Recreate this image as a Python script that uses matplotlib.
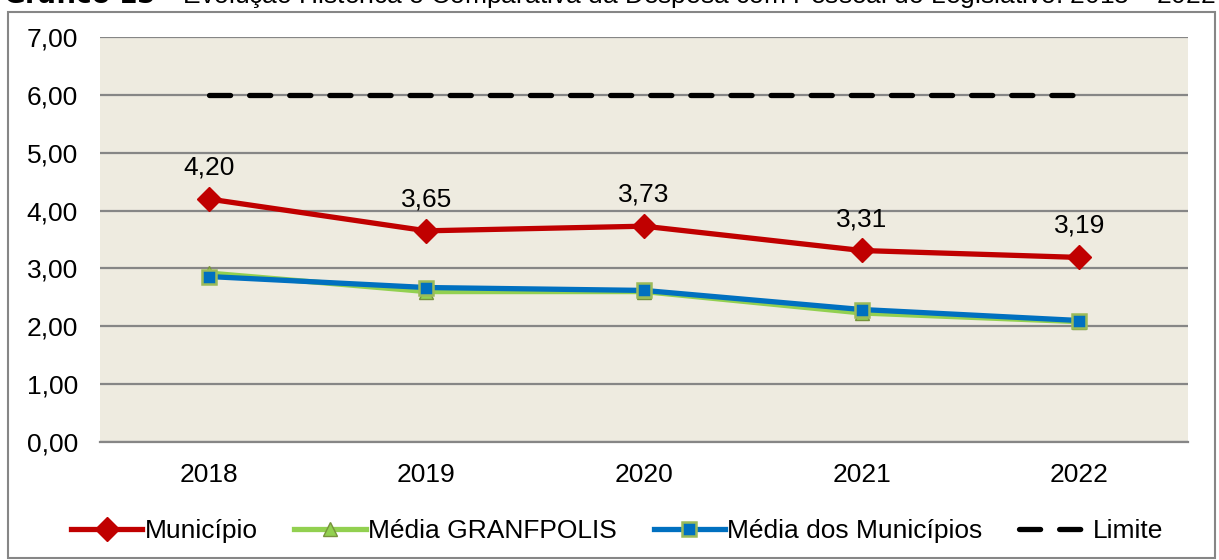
import matplotlib
matplotlib.use("Agg")
import matplotlib.pyplot as plt
from matplotlib.patches import Rectangle

plt.rcParams['font.family'] = ['Liberation Sans', 'DejaVu Sans']

# data
anos = ['2018', '2019', '2020', '2021', '2022']
municipio = [4.20, 3.65, 3.73, 3.31, 3.19]
media_granfpolis = [2.92, 2.60, 2.60, 2.23, 2.08]
media_municipios = [2.86, 2.67, 2.62, 2.29, 2.10]
limite = [6.00, 6.00, 6.00, 6.00, 6.00]
yticks = [0, 1, 2, 3, 4, 5, 6, 7]


def fmt(v):
    return '{:.2f}'.format(v).replace('.', ',')


def main():
    fs = 19
    fig = plt.figure(figsize=(12.19, 5.60), dpi=100)
    ax = fig.add_axes([100 / 1219, 1 - 442 / 560, 1088 / 1219, 405 / 560])

    # outer frame of the chart
    fig.patches.append(Rectangle((8 / 1219, 2 / 560), 1207 / 1219, 546 / 560,
                                 transform=fig.transFigure, fill=False,
                                 edgecolor='#868686', linewidth=1.5))

    # title (cut at the top of the picture)
    fig.text(0.5, 1 - 3 / 560, r'$\bf{Gráfico\ 15}$ – Evolução Histórica e Comparativa da '
             'Despesa com Pessoal do Legislativo: 2018 – 2022',
             ha='center', va='baseline', fontsize=fs)

    x = list(range(len(anos)))
    ax.set_facecolor('#EEEBE0')

    ax.plot(x, municipio, color='#C00000', lw=3.8, marker='D', ms=12.5,
            mfc='#C00000', mec='#C00000', label='Município', zorder=5)
    ax.plot(x, media_granfpolis, color='#92D050', lw=3.8, marker='^', ms=10,
            mfc='#92D050', mec='#77933C', label='Média GRANFPOLIS', zorder=4)
    ax.plot(x, media_municipios, color='#0070C0', lw=3.8, marker='s', ms=9.5,
            mfc='#0070C0', mec='#9BBB59', mew=1.8, label='Média dos Municípios', zorder=6)
    ax.plot(x, limite, color='black', lw=3.8, dashes=(4, 3.6),
            dash_capstyle='round', label='Limite', zorder=3)

    for xi, v in zip(x, municipio):
        ax.annotate(fmt(v), (xi, v), xytext=(0, 14), textcoords='offset points',
                    ha='center', va='bottom', fontsize=fs)

    ax.set_xlim(-0.5, len(anos) - 0.5)
    ax.set_ylim(0, 7)
    ax.set_xticks(x)
    ax.set_xticklabels(anos)
    ax.set_yticks(yticks)
    ax.set_yticklabels([fmt(v) for v in yticks])
    ax.tick_params(length=0, labelsize=fs)
    ax.tick_params(axis='x', pad=15)
    ax.tick_params(axis='y', pad=16)
    ax.grid(axis='y', color='#868686', lw=1.6)
    ax.set_axisbelow(True)
    for side in ['top', 'left', 'right']:
        ax.spines[side].set_visible(False)
    ax.spines['bottom'].set_color('#868686')
    ax.spines['bottom'].set_linewidth(1.6)

    fig.legend(loc='center', bbox_to_anchor=(617 / 1219, 1 - 531 / 560), ncol=4,
               frameon=False, fontsize=fs, handlelength=2.7, handletextpad=0.08,
               columnspacing=1.4, borderpad=0, borderaxespad=0)

    fig.savefig('out.png', dpi=100)


if __name__ == "__main__":
    main()
